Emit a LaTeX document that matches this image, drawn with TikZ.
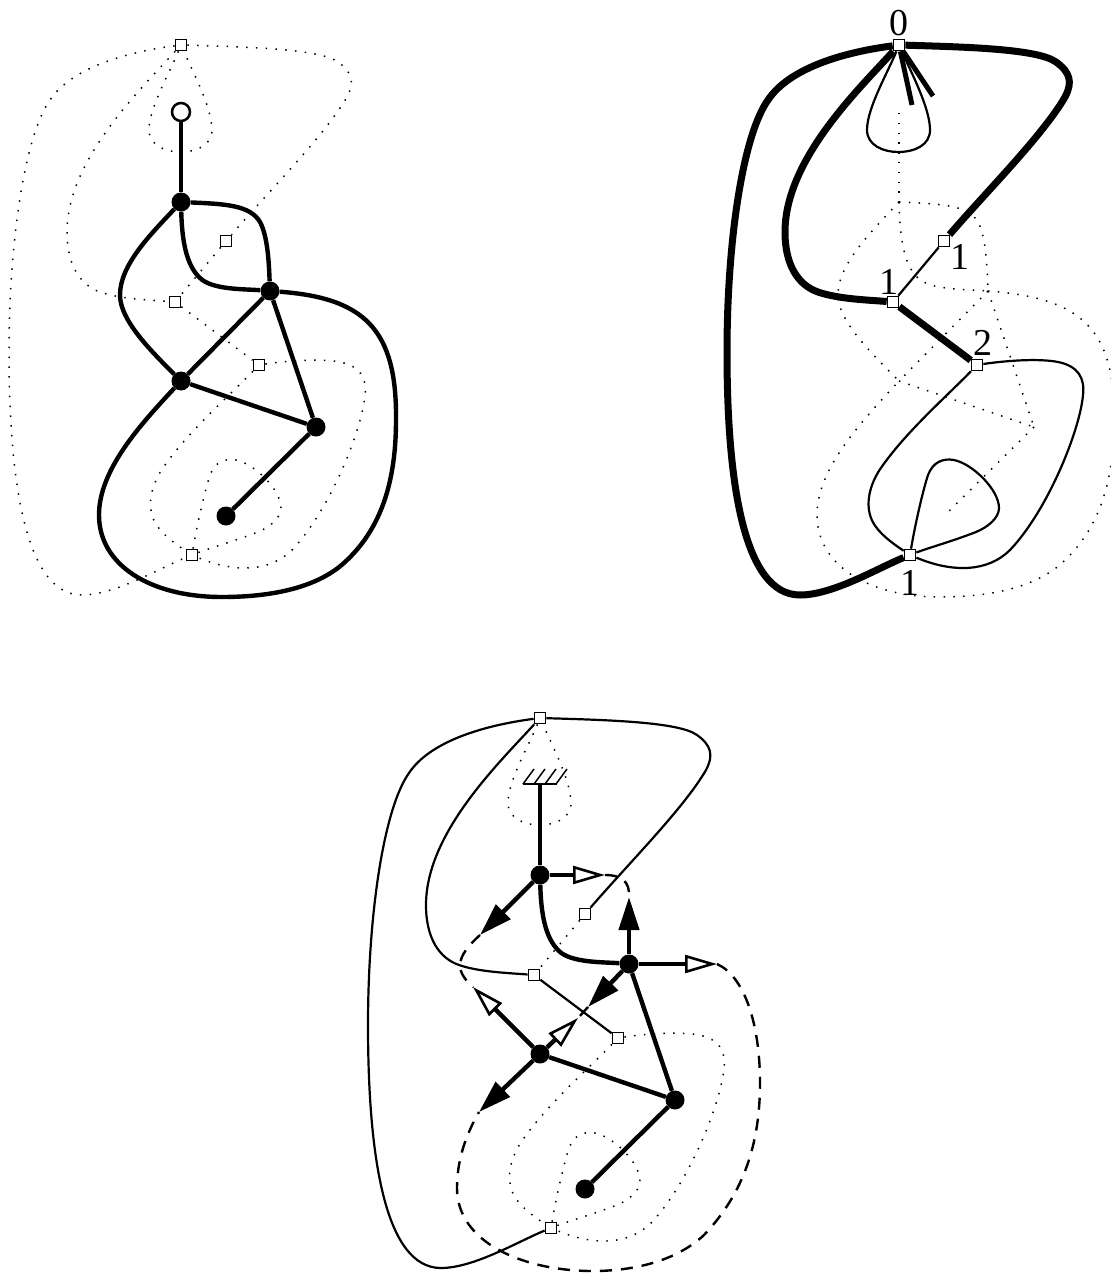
\documentclass[tikz,border=0pt]{standalone}
\usepackage{fontspec}
\setmainfont{Liberation Serif}
\usetikzlibrary{arrows.meta}
\tikzset{
  boxnode/.style={draw,fill=white,rectangle,inner sep=0pt,minimum size=11.5pt,line width=1.2pt},
  vertexnode/.style={fill=black,circle,inner sep=0pt,minimum size=19pt},
  rootnode/.style={draw,fill=white,circle,inner sep=0pt,minimum size=18pt,line width=2.5pt},
  numnode/.style={font=\fontsize{38}{38}\selectfont,inner sep=0pt},
  dotline/.style={line width=1.5pt,dash pattern=on 1.5pt off 8.3pt},
  thinline/.style={line width=2.2pt},
  medline/.style={line width=4.4pt},
  fatline/.style={line width=7pt},
  dashline/.style={line width=2.4pt,dash pattern=on 12pt off 9pt},
  solidtip/.style={-{Triangle[length=33pt,width=20pt]},line width=4.4pt},
  opentip/.style={-{Triangle[open,fill=white,length=32pt,width=18pt,line width=2.6pt]},line width=4.4pt}
}
% the two sets of points, same place in every panel
\newcommand{\placebox}{
  \node[boxnode] (A) at (181,45) {};
  \node[boxnode] (B) at (226,241) {};
  \node[boxnode] (C) at (175,302) {};
  \node[boxnode] (D) at (259,365) {};
  \node[boxnode] (E) at (192,555) {};
}
\newcommand{\dualouter}{(A) .. controls (120,53) and (70,70) .. (50,100) .. controls (25,135) and (9,240) .. (9,352) .. controls (9,480) and (25,595) .. (82,595) .. controls (115,595) and (160,568) .. (E)}
\newcommand{\dualleft}{(A) .. controls (140,90) and (67,160) .. (67,232) .. controls (67,265) and (80,285) .. (100,292) .. controls (120,299) and (150,300) .. (C)}
\newcommand{\dualright}{(A) .. controls (250,47) and (320,49) .. (338,62) .. controls (352,72) and (355,82) .. (347,97) .. controls (325,135) and (270,190) .. (B)}
\newcommand{\dualtop}{(A) .. controls (170,72) and (149,108) .. (149,130) .. controls (149,145) and (165,152) .. (180,152) .. controls (197,152) and (212,145) .. (212,130) .. controls (212,108) and (193,72) .. (A)}
\newcommand{\dualbig}{(D) .. controls (285,361) and (320,358) .. (340,362) .. controls (360,366) and (367,378) .. (365,395) .. controls (362,430) and (330,510) .. (292,550) .. controls (270,572) and (235,573) .. (E)}
\newcommand{\dualsmall}{(D) .. controls (230,395) and (190,430) .. (165,465) .. controls (150,485) and (145,510) .. (158,527) .. controls (165,537) and (180,547) .. (E)}
\newcommand{\dualloop}{(E) .. controls (197,525) and (205,490) .. (210,475) .. controls (215,462) and (225,458) .. (236,460) .. controls (255,464) and (281,490) .. (281,508) .. controls (281,518) and (270,527) .. (258,532) .. controls (235,541) and (210,548) .. (E)}
\newcommand{\primalupper}{(v1) .. controls (225,204) and (250,205) .. (260,222) .. controls (268,237) and (269,265) .. (v2)}
\newcommand{\primallower}{(v1) .. controls (182,240) and (186,265) .. (200,278) .. controls (212,290) and (245,289) .. (v2)}
\newcommand{\primalleft}{(v1) .. controls (150,235) and (120,265) .. (120,295) .. controls (120,320) and (150,350) .. (v3)}
\newcommand{\primalouter}{(v2) .. controls (365,298) and (397,330) .. (396,420) .. controls (396,480) and (382,528) .. (345,562) .. controls (315,590) and (265,597) .. (222,597) .. controls (150,597) and (99,565) .. (99,515) .. controls (99,470) and (140,425) .. (v3)}
\begin{document}
\begin{tikzpicture}[x=1pt,y=-1pt]
  \useasboundingbox (0,0) rectangle (1110,1273);

  % left panel
  \begin{scope}
    \placebox
    \node[vertexnode] (v1) at (181,202) {};
    \node[vertexnode] (v2) at (270,291) {};
    \node[vertexnode] (v3) at (181,381) {};
    \node[vertexnode] (v4) at (316,427) {};
    \node[vertexnode] (v5) at (226,516) {};
    \node[rootnode] (v0) at (181,112) {};
    \draw[dotline] \dualouter \dualleft \dualright \dualtop \dualbig \dualsmall \dualloop;
    \draw[dotline] (B) -- (C);
    \draw[dotline] (C) -- (D);
    \draw[medline] (v0) -- (v1);
    \draw[medline] \primalupper \primallower \primalleft \primalouter;
    \draw[medline] (v2) -- (v3);
    \draw[medline] (v2) -- (v4);
    \draw[medline] (v3) -- (v4);
    \draw[medline] (v4) -- (v5);
  \end{scope}

  % right panel
  \begin{scope}[shift={(718,0)}]
    \coordinate (v0) at (181,113);
    \coordinate (v1) at (181,202);
    \coordinate (v2) at (270,291);
    \coordinate (v3) at (181,381);
    \coordinate (v4) at (316,427);
    \coordinate (v5) at (226,516);
    \placebox
    \draw[dotline] (v0) -- (v1);
    \draw[dotline] \primalupper \primallower \primalleft \primalouter;
    \draw[dotline] (v2) -- (v3);
    \draw[dotline] (v2) -- (v4);
    \draw[dotline] (v3) -- (v4);
    \draw[dotline] (v4) -- (v5);
    \draw[fatline] \dualouter \dualleft \dualright;
    \draw[fatline] (C) -- (D);
    \draw[thinline] (B) -- (C);
    \draw[thinline] \dualtop \dualbig \dualsmall \dualloop;
    % ends at the top box
    \coordinate (t1) at (194,105);
    \coordinate (t2) at (215,96);
    \draw[line width=5pt] (A) -- (t1);
    \draw[line width=5pt] (A) -- (t2);
    \node[numnode] (n0) at (181,23) {0};
    \node[numnode] (n1) at (242,257) {1};
    \node[numnode] (n2) at (171,282) {1};
    \node[numnode] (n3) at (265,343) {2};
    \node[numnode] (n4) at (192,583) {1};
  \end{scope}

  % bottom panel
  \begin{scope}[shift={(359,673)}]
    \placebox
    \node[vertexnode] (v1) at (181,202) {};
    \node[vertexnode] (v2) at (270,291) {};
    \node[vertexnode] (v3) at (181,381) {};
    \node[vertexnode] (v4) at (316,427) {};
    \node[vertexnode] (v5) at (226,516) {};
    \coordinate (v0) at (181,111);
    \draw[dotline] \dualtop \dualbig \dualsmall \dualloop;
    \draw[dotline] (B) -- (C);
    \draw[thinline] \dualouter \dualleft \dualright;
    \draw[thinline] (C) -- (D);
    % wall
    \coordinate (w1) at (164,111);
    \coordinate (w2) at (198,111);
    \draw[line width=2.5pt] (w1) -- (w2);
    \foreach \xx in {164,175,186,197}
      \draw[line width=1.5pt] (\xx,111) -- ++(11,-15);
    \draw[medline] (v0) -- (v1);
    \draw[medline] \primallower;
    \draw[medline] (v2) -- (v4);
    \draw[medline] (v3) -- (v4);
    \draw[medline] (v4) -- (v5);
    % half edges with their tips
    \coordinate (p1) at (121,262);
    \coordinate (p2) at (246,202);
    \coordinate (p3) at (270,224);
    \coordinate (p4) at (358,291);
    \coordinate (p5) at (229,334);
    \coordinate (p6) at (219,345);
    \coordinate (p7) at (114,314);
    \coordinate (p8) at (120,439);
    \draw[solidtip] (v1) -- (p1);
    \draw[opentip] (v1) -- (p2);
    \draw[solidtip] (v2) -- (p3);
    \draw[opentip] (v2) -- (p4);
    \draw[solidtip] (v2) -- (p5);
    \draw[opentip] (v3) -- (p6);
    \draw[opentip] (v3) -- (p7);
    \draw[solidtip] (v3) -- (p8);
    % dashed rest of the edges
    \draw[dashline] (p2) .. controls (262,202) and (271,208) .. (p3);
    \draw[dashline] (p1) .. controls (110,272) and (101,282) .. (101,293) .. controls (101,300) and (107,308) .. (p7);
    \draw[dashline] (p5) -- (p6);
    \draw[dashline] (p4) .. controls (385,303) and (401,350) .. (401,410) .. controls (401,470) and (385,520) .. (345,562) .. controls (315,590) and (270,598) .. (234,598) .. controls (165,598) and (98,570) .. (98,515) .. controls (98,490) and (105,465) .. (p8);
  \end{scope}
\end{tikzpicture}
\end{document}
